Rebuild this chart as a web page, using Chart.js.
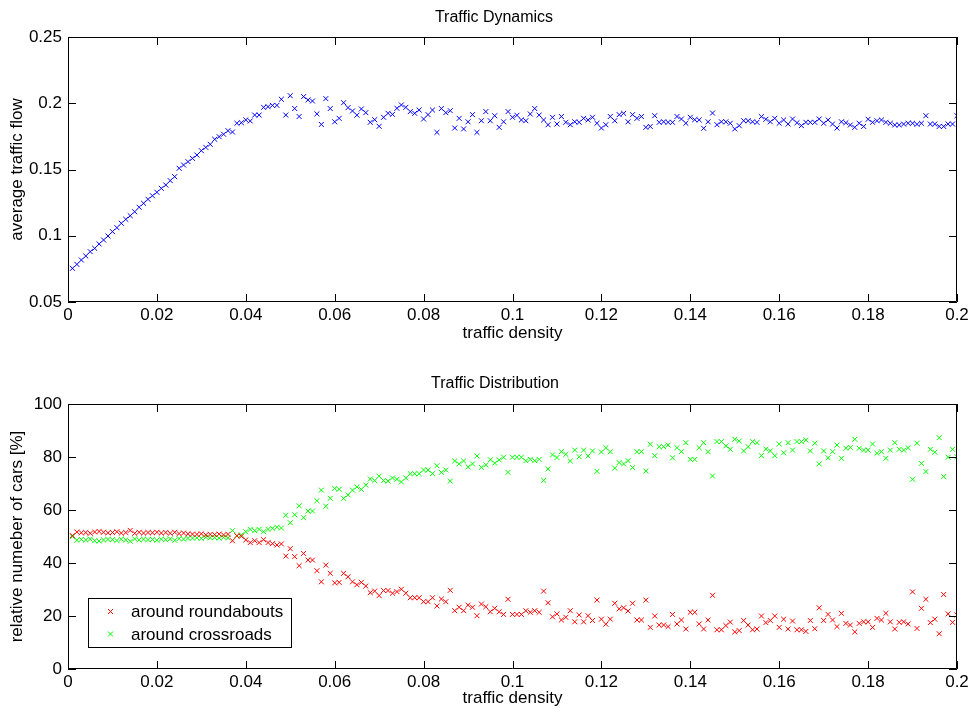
<!DOCTYPE html>
<html>
<head>
<meta charset="utf-8">
<title>Traffic Dynamics</title>
<script src="https://cdn.jsdelivr.net/npm/chart.js@4.4.1/dist/chart.umd.min.js"></script>
<style>
  html, body { margin: 0; padding: 0; background: #fff; }
  #wrap { position: relative; width: 974px; height: 715px; }
  canvas { position: absolute; left: 0; }
  #flowChart { top: 0; }
  #distChart { top: 357px; }
</style>
</head>
<body>
<div id="wrap">
  <canvas id="flowChart" width="974" height="357"></canvas>
  <canvas id="distChart" width="974" height="358"></canvas>
</div>
<script>
// traffic density (x) for every sample
const density = [
  0.001,0.002,0.003,0.004,0.005,0.006,0.007,0.008,0.009,0.010,
  0.011,0.012,0.013,0.014,0.015,0.016,0.017,0.018,0.019,0.020,
  0.021,0.022,0.023,0.024,0.025,0.026,0.027,0.028,0.029,0.030,
  0.031,0.032,0.033,0.034,0.035,0.036,0.037,0.038,0.039,0.040,
  0.041,0.042,0.043,0.044,0.045,0.046,0.047,0.048,0.049,0.050,
  0.051,0.052,0.053,0.054,0.055,0.056,0.057,0.058,0.059,0.060,
  0.061,0.062,0.063,0.064,0.065,0.066,0.067,0.068,0.069,0.070,
  0.071,0.072,0.073,0.074,0.075,0.076,0.077,0.078,0.079,0.080,
  0.081,0.082,0.083,0.084,0.085,0.086,0.087,0.088,0.089,0.090,
  0.091,0.092,0.093,0.094,0.095,0.096,0.097,0.098,0.099,0.100,
  0.101,0.102,0.103,0.104,0.105,0.106,0.107,0.108,0.109,0.110,
  0.111,0.112,0.113,0.114,0.115,0.116,0.117,0.118,0.119,0.120,
  0.121,0.122,0.123,0.124,0.125,0.126,0.127,0.128,0.129,0.130,
  0.131,0.132,0.133,0.134,0.135,0.136,0.137,0.138,0.139,0.140,
  0.141,0.142,0.143,0.144,0.145,0.146,0.147,0.148,0.149,0.150,
  0.151,0.152,0.153,0.154,0.155,0.156,0.157,0.158,0.159,0.160,
  0.161,0.162,0.163,0.164,0.165,0.166,0.167,0.168,0.169,0.170,
  0.171,0.172,0.173,0.174,0.175,0.176,0.177,0.178,0.179,0.180,
  0.181,0.182,0.183,0.184,0.185,0.186,0.187,0.188,0.189,0.190,
  0.191,0.192,0.193,0.194,0.195,0.196,0.197,0.198,0.199,0.200
];

// top plot: average traffic flow
const avgFlow = [
  0.0754,0.0784,0.0817,0.0847,0.0880,0.0905,0.0938,0.0968,0.0998,0.1031,
  0.1061,0.1094,0.1124,0.1151,0.1181,0.1215,0.1245,0.1275,0.1302,0.1328,
  0.1358,0.1383,0.1416,0.1446,0.1509,0.1534,0.1559,0.1584,0.1609,0.1642,
  0.1667,0.1690,0.1728,0.1748,0.1766,0.1793,0.1783,0.1849,0.1853,0.1874,
  0.1866,0.1911,0.1911,0.1969,0.1974,0.1984,0.1984,0.2030,0.1911,0.2057,
  0.1960,0.1900,0.2050,0.2025,0.2017,0.1920,0.1840,0.2035,0.1960,0.1860,
  0.1886,0.2004,0.1967,0.1942,0.1910,0.1957,0.1929,0.1856,0.1876,0.1826,
  0.1894,0.1924,0.1916,0.1962,0.1987,0.1969,0.1937,0.1924,0.1949,0.1881,
  0.1914,0.1949,0.1780,0.1960,0.1929,0.1944,0.1813,0.1886,0.1806,0.1860,
  0.1914,0.1780,0.1868,0.1937,0.1868,0.1906,0.1818,0.1860,0.1937,0.1894,
  0.1909,0.1874,0.1868,0.1919,0.1960,0.1911,0.1874,0.1838,0.1894,0.1843,
  0.1900,0.1856,0.1838,0.1860,0.1856,0.1886,0.1874,0.1894,0.1849,0.1813,
  0.1838,0.1900,0.1868,0.1914,0.1924,0.1860,0.1914,0.1886,0.1900,0.1818,
  0.1825,0.1906,0.1856,0.1860,0.1856,0.1856,0.1900,0.1881,0.1849,0.1894,
  0.1876,0.1874,0.1811,0.1860,0.1926,0.1838,0.1860,0.1860,0.1849,0.1806,
  0.1831,0.1868,0.1868,0.1860,0.1856,0.1899,0.1879,0.1860,0.1886,0.1849,
  0.1874,0.1843,0.1881,0.1853,0.1831,0.1856,0.1856,0.1856,0.1881,0.1849,
  0.1874,0.1843,0.1813,0.1860,0.1853,0.1836,0.1818,0.1849,0.1825,0.1879,
  0.1856,0.1868,0.1874,0.1856,0.1849,0.1836,0.1836,0.1843,0.1849,0.1849,
  0.1841,0.1849,0.1906,0.1843,0.1843,0.1825,0.1825,0.1843,0.1843,0.1906
];

// bottom plot: share of cars [%]
const roundabouts = [
  50.3,51.7,51.4,51.5,51.2,51.7,51.9,51.6,51.4,51.5,
  51.8,51.3,51.5,52.3,51.2,51.6,51.3,51.5,51.4,51.6,
  51.3,51.5,51.2,51.6,51.1,51.3,51.0,50.9,50.8,51.0,
  50.6,50.8,50.7,50.9,50.6,50.8,48.4,50.3,50.1,48.7,
  47.7,48.4,47.7,48.8,47.7,47.3,46.8,47.2,42.6,45.4,
  42.4,39.0,43.6,41.1,41.1,37.1,32.9,39.2,36.1,32.5,
  32.7,36.1,34.8,32.9,31.8,32.7,31.3,28.8,29.4,27.7,
  29.6,29.6,28.6,29.2,30.1,28.6,26.9,26.9,26.9,25.4,
  25.4,26.9,23.8,26.4,25.4,29.7,22.0,23.3,22.0,24.1,
  23.3,20.1,24.5,23.5,21.6,22.9,21.6,20.6,26.3,20.6,
  20.6,20.6,22.0,21.4,22.0,21.4,29.4,25.0,19.7,20.8,
  18.5,19.5,22.0,17.8,20.4,17.8,20.1,18.3,26.0,18.8,
  16.9,18.8,24.8,22.7,23.1,21.9,24.8,18.5,18.5,26.0,
  15.7,20.0,16.6,16.6,16.0,20.6,17.0,18.5,15.1,21.4,
  21.4,17.0,15.1,18.5,27.8,14.8,14.8,16.4,17.7,14.0,
  14.5,18.3,16.6,14.8,15.1,20.0,17.5,18.3,20.0,15.7,
  18.8,15.1,18.1,14.8,14.8,14.2,18.3,15.2,23.1,18.3,
  20.6,18.5,16.0,21.0,17.2,16.6,14.0,17.2,17.8,17.8,
  15.7,19.1,18.5,21.0,17.8,15.1,17.6,17.8,17.0,29.1,
  15.3,22.9,26.3,17.5,18.8,13.3,28.1,20.8,17.6,20.4
];
const crossroads = [
  50.0,48.6,48.9,48.7,49.0,48.4,48.3,48.7,48.9,48.8,
  48.5,49.0,48.7,48.2,49.1,48.7,49.0,48.8,48.9,48.6,
  49.0,48.8,49.1,48.6,49.2,49.0,49.3,49.4,49.5,49.3,
  49.7,49.5,49.6,49.4,49.7,49.5,52.2,50.2,50.6,51.8,
  52.7,52.2,52.7,51.8,52.7,53.1,53.5,53.2,58.0,55.2,
  58.2,61.6,57.1,59.6,59.6,63.5,67.5,61.4,64.4,68.1,
  67.8,64.4,65.7,67.5,68.7,67.8,69.4,71.7,71.1,72.8,
  71.1,70.9,72.1,71.6,70.6,72.1,73.7,73.7,73.7,75.1,
  75.1,73.7,76.7,74.2,75.1,70.9,78.5,77.4,78.5,76.3,
  77.4,80.4,76.1,77.0,79.0,77.7,78.9,79.9,74.2,79.9,
  79.9,79.9,78.6,79.1,78.6,79.1,71.2,75.5,80.8,79.8,
  82.0,81.0,78.5,82.6,80.1,82.6,80.4,82.3,74.6,81.9,
  83.5,82.0,75.8,77.9,77.4,78.6,76.0,82.0,82.0,74.7,
  84.8,80.5,83.9,83.9,84.5,79.7,83.5,82.0,85.4,79.1,
  79.1,83.5,85.4,82.0,72.8,85.8,85.8,84.2,82.9,86.7,
  86.0,82.3,83.9,85.8,85.4,80.5,83.0,82.3,80.5,84.9,
  81.6,85.4,82.6,85.8,85.8,86.4,82.3,85.2,77.4,82.3,
  79.7,82.0,84.5,79.5,83.3,83.6,86.7,83.3,82.6,82.6,
  84.9,81.4,82.0,79.5,82.6,85.4,82.9,82.6,83.5,71.6,
  85.2,77.6,74.5,82.9,81.8,87.3,72.6,79.9,82.9,80.1
];

// axis ticks
const densityTicks = [0, 0.02, 0.04, 0.06, 0.08, 0.1, 0.12, 0.14, 0.16, 0.18, 0.2];
const densityTickLabels = ["0", "0.02", "0.04", "0.06", "0.08", "0.1", "0.12", "0.14", "0.16", "0.18", "0.2"];
const flowTicks = [0.05, 0.1, 0.15, 0.2, 0.25];
const flowTickLabels = ["0.05", "0.1", "0.15", "0.2", "0.25"];
const shareTicks = [0, 20, 40, 60, 80, 100];
const shareTickLabels = ["0", "20", "40", "60", "80", "100"];

const FONT = '"Liberation Sans", Arial, Helvetica, sans-serif';
Chart.defaults.font.family = FONT;
Chart.defaults.font.size = 17;
Chart.defaults.color = '#000';

function points(ys) {
    return ys.map((v, i) => ({ x: density[i], y: v }));
}

function fixedTicks(values) {
    return axis => { axis.ticks = values.map(v => ({ value: v })); };
}

/* -------------------------------
   MATLAB style box with inward ticks
--------------------------------*/
const boxFrame = {
    id: "boxFrame",
    afterDraw(chart) {
        const { ctx, chartArea: a, scales: { x, y } } = chart;
        const len = 8;
        ctx.save();
        ctx.strokeStyle = "#000";
        ctx.lineWidth = 1;
        ctx.beginPath();
        ctx.rect(Math.round(a.left) + 0.5, Math.round(a.top) + 0.5,
                 Math.round(a.right - a.left) - 1, Math.round(a.bottom - a.top) - 1);
        x.ticks.forEach(t => {
            const px = Math.round(x.getPixelForValue(t.value)) + 0.5;
            ctx.moveTo(px, a.bottom); ctx.lineTo(px, a.bottom - len);
            ctx.moveTo(px, a.top); ctx.lineTo(px, a.top + len);
        });
        y.ticks.forEach(t => {
            const py = Math.round(y.getPixelForValue(t.value)) + 0.5;
            ctx.moveTo(a.left, py); ctx.lineTo(a.left + len, py);
            ctx.moveTo(a.right, py); ctx.lineTo(a.right - len, py);
        });
        ctx.stroke();
        ctx.restore();
    }
};

/* -------------------------------
   plot title (placed like the matlab figure)
--------------------------------*/
const plotTitle = {
    id: "plotTitle",
    afterDraw(chart, args, opts) {
        const { ctx } = chart;
        ctx.save();
        ctx.font = opts.size + "px " + FONT;
        ctx.fillStyle = "#000";
        ctx.textAlign = "center";
        ctx.textBaseline = "middle";
        ctx.fillText(opts.text, opts.x, opts.y);
        ctx.restore();
    }
};

/* -------------------------------
   legend box in lower left corner
--------------------------------*/
const boxLegend = {
    id: "boxLegend",
    afterDraw(chart, args, opts) {
        if (!opts.display) return;
        const { ctx, chartArea: a } = chart;
        const left = a.left + 20, top = a.bottom - 71, w = 203, h = 49;
        ctx.save();
        ctx.fillStyle = "#fff";
        ctx.fillRect(left, top, w, h);
        ctx.strokeStyle = "#000";
        ctx.lineWidth = 1;
        ctx.strokeRect(left + 0.5, top + 0.5, w, h);
        ctx.font = "17px " + FONT;
        ctx.textBaseline = "middle";
        chart.data.datasets.forEach((ds, i) => {
            const cy = top + 13.5 + i * 22.5;
            const cx = left + 22.5;
            ctx.strokeStyle = ds.borderColor;
            ctx.beginPath();
            ctx.moveTo(cx - 2.5, cy - 2.5); ctx.lineTo(cx + 2.5, cy + 2.5);
            ctx.moveTo(cx - 2.5, cy + 2.5); ctx.lineTo(cx + 2.5, cy - 2.5);
            ctx.stroke();
            ctx.fillStyle = "#000";
            ctx.fillText(ds.label, left + 43, cy + 1);
        });
        ctx.restore();
    }
};

function xAxis(axisHeight, titleBottom) {
    return {
        type: "linear",
        min: 0,
        max: 0.2,
        grid: { display: false, drawTicks: false },
        border: { display: false },
        afterBuildTicks: fixedTicks(densityTicks),
        afterFit: axis => { axis.height = axisHeight; },
        ticks: { padding: 3, maxRotation: 0, autoSkip: false, callback: (v, i) => densityTickLabels[i] },
        title: { display: true, text: "traffic density", padding: { top: 0, bottom: titleBottom } }
    };
}

function yAxis(min, max, ticks, labels, titleText) {
    return {
        type: "linear",
        min: min,
        max: max,
        grid: { display: false, drawTicks: false },
        border: { display: false },
        afterBuildTicks: fixedTicks(ticks),
        afterFit: axis => { axis.width = 68; },
        ticks: { padding: 6, autoSkip: false, callback: (v, i) => labels[i] },
        title: { display: true, text: titleText, padding: { top: 7, bottom: 0 } }
    };
}

function marker(color) {
    return {
        pointStyle: "crossRot",
        pointRadius: 3.5,
        pointHoverRadius: 3.5,
        borderWidth: 1,
        borderColor: color,
        backgroundColor: color,
        showLine: false
    };
}

/* -------------------------------
   TRAFFIC DYNAMICS
--------------------------------*/
new Chart(document.getElementById("flowChart"), {
    type: "scatter",
    data: {
        datasets: [Object.assign({ label: "average traffic flow", data: points(avgFlow) }, marker("#0000ff"))]
    },
    options: {
        responsive: false,
        animation: false,
        devicePixelRatio: 1,
        layout: { padding: { left: 0, right: 17, top: 37, bottom: 0 } },
        plugins: {
            legend: { display: false },
            tooltip: { enabled: false },
            title: { display: false },
            plotTitle: { text: "Traffic Dynamics", x: 494, y: 18, size: 16 },
            boxLegend: { display: false }
        },
        scales: {
            x: xAxis(55, 13),
            y: yAxis(0.05, 0.25, flowTicks, flowTickLabels, "average traffic flow")
        }
    },
    plugins: [boxFrame, plotTitle, boxLegend]
});

/* -------------------------------
   TRAFFIC DISTRIBUTION
--------------------------------*/
new Chart(document.getElementById("distChart"), {
    type: "scatter",
    data: {
        datasets: [
            Object.assign({ label: "around roundabouts", data: points(roundabouts) }, marker("#ff0000")),
            Object.assign({ label: "around crossroads", data: points(crossroads) }, marker("#00ff00"))
        ]
    },
    options: {
        responsive: false,
        animation: false,
        devicePixelRatio: 1,
        layout: { padding: { left: 0, right: 17, top: 47, bottom: 0 } },
        plugins: {
            legend: { display: false },
            tooltip: { enabled: false },
            title: { display: false },
            plotTitle: { text: "Traffic Distribution", x: 495, y: 27, size: 16 },
            boxLegend: { display: true }
        },
        scales: {
            x: xAxis(46, 6),
            y: yAxis(0, 100, shareTicks, shareTickLabels, "relative numeber of cars [%]")
        }
    },
    plugins: [boxFrame, plotTitle, boxLegend]
});
</script>
</body>
</html>
